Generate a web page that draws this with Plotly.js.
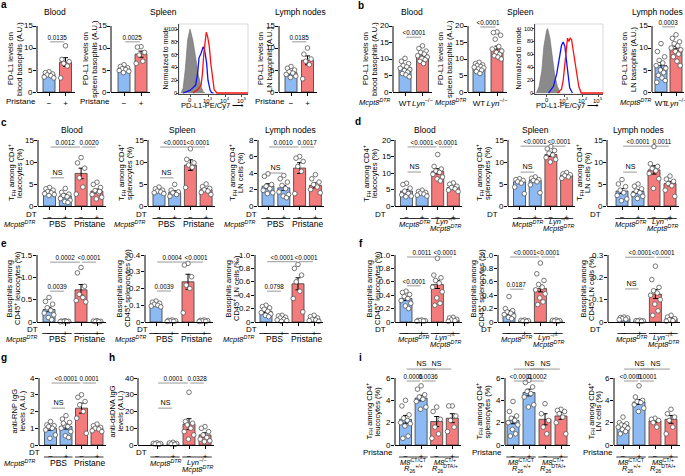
<!DOCTYPE html>
<html><head><meta charset="utf-8">
<script src="https://cdn.plot.ly/plotly-3.0.1.min.js"></script>
<style>html,body{margin:0;padding:0;background:#fff}</style>
</head><body><div id="chart" style="width:685px;height:476px"></div>
<script>
// ================= DATA =================
const MCPT = '<i>Mcpt8</i><sup><i>DTR</i></sup>';
const LYN = '<i>Lyn</i><sup>\u2212/\u2212</sup>';
const TFH = 'T<sub>FH</sub> among CD4<sup>+</sup>';
const pristaneTicks = ['\u2212', '+'];
const bTicks = ['WT', LYN];
const dtTicks = ['\u2212', '+', '\u2212', '+'];
const pbsGroups = [[0, 1, 'PBS'], [2, 3, 'Pristane']];
const lynGroups = [[0, 1, MCPT], [2, 3, LYN + '<br>' + MCPT]];
const m8Groups = [[0, 1, '<i>M8</i><sup>CT/CT</sup><br><i>R</i><sub>26</sub><sup>+/+</sup>'],
                  [2, 3, '<i>M8</i><sup>CT/+</sup><br><i>R</i><sub>26</sub><sup>DTA/+</sup>']];

const yT15 = [0, 5, 10, 15], yT20 = [0, 5, 10, 15, 20], yT8 = [0, 2, 4, 6, 8];
const yT15e = [0, 0.5, 1.0, 1.5], yT04 = [0, 0.1, 0.2, 0.3, 0.4], yT10 = [0, 0.2, 0.4, 0.6, 0.8, 1.0];
const yT03 = [0, 0.1, 0.2, 0.3], yT4 = [0, 1, 2, 3, 4], yT40 = [0, 10, 20, 30, 40], yT6 = [0, 2, 4, 6];

// panel a
const a1Means = [4.0, 6.8], a1Sem = [0.3, 1.0];
const a1Pts = [[4.6, 4.4, 4.1, 3.9, 3.7, 3.4, 3.2], [10.5, 7.4, 6.9, 6.5, 5.9, 3.2]];
const a1Sig = [[0, 1, 11.4, '0.0135']];
const a2Means = [5.3, 8.6], a2Sem = [0.25, 0.7];
const a2Pts = [[6.2, 5.8, 5.5, 5.3, 5.1, 4.9, 4.7, 4.4], [10.3, 10.2, 9.0, 8.4, 7.0, 6.5]];
const a2Sig = [[0, 1, 11.4, '0.0025']];
const a3Means = [4.4, 7.2], a3Sem = [0.3, 1.0];
const a3Pts = [[5.8, 5.4, 5.0, 4.6, 4.3, 4.0, 3.6, 3.3], [10.0, 8.6, 7.5, 7.0, 6.2, 3.0]];
const a3Sig = [[0, 1, 11.4, '0.0185']];
// panel b
const b1Means = [7.5, 11.2], b1Sem = [0.5, 0.5];
const b1Pts = [[10.2, 9.3, 8.6, 8.0, 7.6, 7.2, 6.8, 6.5, 6.0, 5.6, 5.2, 4.6], [14.0, 13.2, 12.4, 12.0, 11.5, 11.0, 10.6, 10.2, 9.8, 9.3, 8.6]];
const b1Sig = [[0, 1, 16.6, '<0.0001']];
const b2Means = [7.6, 13.0], b2Sem = [0.3, 0.9];
const b2Pts = [[9.0, 8.6, 8.2, 8.0, 7.7, 7.5, 7.3, 7.0, 6.6, 6.2, 5.6], [18.2, 18.0, 17.2, 16.0, 13.8, 13.0, 12.4, 12.0, 11.4, 11.0, 10.6, 10.0]];
const b2Sig = [[0, 1, 19.7, '<0.0001']];
const b3Means = [6.0, 9.9], b3Sem = [0.7, 0.5];
const b3Pts = [[11.0, 9.2, 8.0, 7.2, 6.6, 6.0, 5.4, 5.0, 4.4, 3.8, 3.2, 2.6, 2.2], [13.0, 12.2, 11.4, 11.0, 10.5, 10.0, 9.6, 9.2, 8.6, 8.0, 7.0, 6.0]];
const b3Sig = [[0, 1, 14.8, '0.0003']];
// histograms (x: 0-100 along the axis, y: % of mode)
const histATickVals = [16, 42.5, 66.7, 91], histBTickVals = [17.6, 43, 70, 93];
const histTickText = ['0', '10<sup>3</sup>', '10<sup>4</sup>', '10<sup>5</sup>'];
const histYTicks = [0, 20, 40, 60, 80, 100];
const hAGrayX = [3, 6, 9, 12.5, 16, 20, 24, 27.5, 32, 35, 38];
const hAGrayY = [0, 8, 36, 83, 100, 83, 57, 31, 10, 2, 0];
const hABlueX = [6, 12, 16, 20, 24, 27, 29, 32, 35, 37, 40, 42, 45, 47, 50];
const hABlueY = [0, 2, 4, 8, 12, 31, 55, 62, 72, 68, 47, 20, 5, 1, 0];
const hARedX = [20, 27, 32, 34, 36, 38, 39.5, 41.5, 44, 46, 49, 51, 55, 100];
const hARedY = [0, 5, 12, 31, 62, 85, 95, 88, 72, 47, 18, 5, 0, 0];
const hBGrayX = [2, 6, 10, 13, 17, 18.6, 22, 26, 29, 33, 37];
const hBGrayY = [0, 10, 35, 72, 97, 100, 85, 56, 28, 10, 0];
const hBBlueX = [20, 27, 32, 35.5, 39, 41.5, 44, 46.5, 49, 51, 55];
const hBBlueY = [0, 10, 30, 56, 74, 79, 72, 48, 25, 8, 0];
const hBRedX = [33, 39, 41.5, 44, 46.4, 47.8, 49.8, 51.7, 53.7, 57, 61, 64.4, 68, 100];
const hBRedY = [0, 6, 20, 51, 74, 85, 80, 85, 83, 61, 30, 10, 0, 0];
// panel c
const c1Means = [3.2, 2.3, 7.4, 3.4], c1Sem = [0.25, 0.4, 1.2, 0.45];
const c1Pts = [[4.2, 3.9, 3.6, 3.3, 3.0, 2.8, 2.6, 2.4], [4.0, 3.1, 2.7, 2.4, 2.1, 1.7, 1.3, 1.0, 0.8], [11.0, 9.8, 8.6, 6.4, 4.3, 2.7], [5.4, 4.9, 4.2, 3.5, 3.0, 2.6, 2.0, 1.6, 3.3]];
const c1Sig = [[0, 1, 6.4, 'NS'], [0, 2, 13.4, '0.0012'], [2, 3, 13.4, '0.0020']];
const c2Means = [3.4, 3.1, 9.3, 3.7], c2Sem = [0.2, 0.35, 1.2, 0.3];
const c2Pts = [[4.3, 3.9, 3.6, 3.4, 3.2, 3.0, 2.8], [4.9, 3.6, 3.2, 3.0, 2.6, 2.2], [13.0, 10.6, 9.8, 9.3, 8.8, 4.2], [5.0, 4.4, 4.0, 3.7, 3.4, 3.1, 2.6]];
const c2Sig = [[0, 1, 6.4, 'NS'], [0, 2, 13.4, '<0.0001'], [2, 3, 13.4, '<0.0001']];
const c3Means = [2.4, 2.2, 4.6, 2.5], c3Sem = [0.3, 0.3, 0.65, 0.3];
const c3Pts = [[3.9, 3.6, 2.6, 2.4, 2.1, 1.9, 1.6, 1.5], [3.7, 3.3, 2.9, 2.5, 2.1, 1.7, 1.4, 1.2, 1.0], [6.0, 5.8, 5.4, 4.8, 4.2, 1.5], [3.8, 3.3, 2.9, 2.6, 2.3, 2.0, 1.6]];
const c3Sig = [[0, 1, 4.0, 'NS'], [0, 2, 7.15, '0.0010'], [2, 3, 7.15, '0.0017']];
// panel d
const d1Means = [4.5, 3.9, 10.5, 5.6], d1Sem = [0.5, 0.25, 0.8, 0.35];
const d1Pts = [[6.9, 6.5, 5.4, 4.5, 3.8, 3.4, 3.0, 2.8], [4.8, 4.4, 4.1, 3.9, 3.6, 3.3, 3.0], [15.6, 12.0, 11.2, 10.6, 10.2, 9.6, 8.8, 8.2, 7.6], [7.0, 6.6, 6.0, 5.6, 5.2, 4.8, 4.4]];
const d1Sig = [[0, 1, 10.3, 'NS'], [0, 2, 17.9, '<0.0001'], [2, 3, 17.9, '<0.0001']];
const d2Means = [5.5, 5.8, 11.7, 7.0], d2Sem = [0.4, 0.4, 0.45, 0.25];
const d2Pts = [[6.2, 6.0, 5.8, 5.5, 5.2, 4.3, 2.8], [6.6, 6.3, 6.0, 5.8, 5.5, 4.8, 3.0], [13.5, 13.0, 12.6, 12.0, 11.6, 11.0, 10.6, 10.0], [7.6, 7.3, 7.1, 6.9, 6.6, 6.3]];
const d2Sig = [[0, 1, 7.7, 'NS'], [0, 2, 13.6, '<0.0001'], [2, 3, 13.6, '<0.0001']];
const d3Means = [3.4, 3.3, 8.2, 5.1], d3Sem = [0.55, 0.4, 0.95, 0.5];
const d3Pts = [[6.0, 5.0, 4.4, 3.6, 3.0, 2.4, 1.6, 1.2], [5.0, 4.5, 3.9, 3.4, 3.0, 2.6, 2.2, 1.7], [13.5, 9.6, 9.0, 8.5, 8.0, 7.4, 6.2, 4.0], [6.8, 6.1, 5.6, 5.1, 4.6, 3.6, 2.2]];
const d3Sig = [[0, 1, 7.7, 'NS'], [0, 2, 13.6, '<0.0001'], [2, 3, 13.6, '0.0011']];
// panel e
const e1Means = [0.28, 0.012, 0.72, 0.01], e1Sem = [0.05, 0.003, 0.12, 0.003];
const e1Pts = [[0.55, 0.46, 0.40, 0.32, 0.26, 0.20, 0.16, 0.10, 0.05], [0.03, 0.02, 0.015, 0.01, 0.01, 0.005], [1.22, 1.1, 0.8, 0.62, 0.55, 0.48, 0.45], [0.03, 0.02, 0.015, 0.01, 0.005]];
const e1Sig = [[0, 1, 0.69, '0.0039'], [0, 2, 1.34, '0.0002'], [2, 3, 1.34, '<0.0001']];
const e2Means = [0.105, 0.006, 0.24, 0.006], e2Sem = [0.005, 0.001, 0.045, 0.001];
const e2Pts = [[0.125, 0.118, 0.112, 0.106, 0.1, 0.095, 0.09], [0.012, 0.01, 0.008, 0.006, 0.004, 0.003], [0.35, 0.34, 0.27, 0.22, 0.2, 0.055], [0.012, 0.01, 0.008, 0.006, 0.004, 0.003]];
const e2Sig = [[0, 1, 0.185, '0.0039'], [0, 2, 0.358, '0.0004'], [2, 3, 0.358, '<0.0001']];
const e3Means = [0.16, 0.05, 0.57, 0.045], e3Sem = [0.02, 0.012, 0.09, 0.012];
const e3Pts = [[0.25, 0.23, 0.21, 0.19, 0.16, 0.14, 0.12, 0.1, 0.08], [0.1, 0.09, 0.07, 0.06, 0.04, 0.03, 0.02, 0.01], [0.86, 0.8, 0.7, 0.6, 0.46, 0.35, 0.15], [0.1, 0.08, 0.06, 0.04, 0.03, 0.02, 0.01]];
const e3Sig = [[0, 1, 0.46, '0.0798'], [0, 2, 0.9, '<0.0001'], [2, 3, 0.9, '<0.0001']];
// panel f
const f1Means = [0.35, 0.02, 0.56, 0.03], f1Sem = [0.03, 0.003, 0.06, 0.008];
const f1Pts = [[0.46, 0.44, 0.41, 0.38, 0.35, 0.32, 0.28, 0.24, 0.2], [0.03, 0.025, 0.02, 0.02, 0.015, 0.01], [0.95, 0.7, 0.66, 0.62, 0.58, 0.52, 0.45, 0.36, 0.28, 0.25], [0.07, 0.06, 0.04, 0.03, 0.02, 0.01]];
const f1Sig = [[0, 1, 0.54, '<0.0001'], [0, 2, 0.97, '0.0011'], [2, 3, 0.97, '<0.0001']];
const f2Means = [0.14, 0.02, 0.5, 0.02], f2Sem = [0.03, 0.003, 0.05, 0.003];
const f2Pts = [[0.38, 0.2, 0.17, 0.15, 0.13, 0.11, 0.09, 0.07, 0.05], [0.03, 0.025, 0.02, 0.015, 0.01], [0.88, 0.72, 0.62, 0.56, 0.52, 0.48, 0.42, 0.36, 0.3, 0.26], [0.03, 0.025, 0.02, 0.015, 0.01]];
const f2Sig = [[0, 1, 0.49, '0.0187'], [0, 2, 0.97, '<0.0001'], [2, 3, 0.97, '<0.0001']];
const f3Means = [0.015, 0.005, 0.125, 0.015], f3Sem = [0.002, 0.001, 0.02, 0.004];
const f3Pts = [[0.022, 0.02, 0.018, 0.015, 0.012, 0.01], [0.008, 0.006, 0.005, 0.004, 0.003], [0.25, 0.19, 0.155, 0.14, 0.13, 0.12, 0.1, 0.08, 0.05, 0.03], [0.03, 0.022, 0.015, 0.01, 0.006, 0.004]];
const f3Sig = [[0, 1, 0.148, 'NS'], [0, 2, 0.29, '<0.0001'], [2, 3, 0.29, '<0.0001']];
// panel g, h
const gMeans = [1.0, 1.1, 2.2, 1.0], gSem = [0.12, 0.15, 0.3, 0.06];
const gPts = [[1.4, 1.2, 1.15, 1.1, 1.0, 0.9, 0.6, 0.4], [1.75, 1.55, 1.35, 1.2, 1.1, 1.0, 0.8, 0.55, 0.45, 1.3], [3.0, 2.85, 2.6, 2.4, 2.0, 1.6, 0.7], [1.25, 1.15, 1.05, 1.0, 0.95, 0.85, 0.8]];
const gSig = [[0, 1, 2.2, 'NS'], [0, 2, 3.7, '<0.0001'], [2, 3, 3.7, '0.0001']];
const hMeans = [0.8, 0.8, 12.5, 6.0], hSem = [0.2, 0.2, 3.2, 1.3];
const hPts = [[1.3, 1.0, 0.8, 0.6, 0.4], [1.6, 1.2, 0.9, 0.6, 0.4], [31.5, 14.0, 13.0, 12.0, 10.0, 8.0, 6.0, 3.5], [11.0, 10.0, 8.0, 6.0, 4.5, 3.5, 2.5, 2.0]];
const hSig = [[0, 1, 22, 'NS'], [0, 2, 37, '0.0001'], [2, 3, 37, '0.0328']];
// panel i
const i1Means = [2.3, 4.2, 2.1, 2.4], i1Sem = [0.35, 0.25, 0.45, 0.4];
const i1Pts = [[4.0, 3.5, 2.7, 2.4, 2.2, 2.0, 1.9, 1.7, 0.8, 0.6], [5.3, 5.0, 4.5, 4.3, 4.1, 3.9, 3.4, 3.2], [3.4, 3.0, 2.3, 1.6, 1.0, 0.6], [3.5, 3.5, 2.6, 2.2, 1.6, 1.2]];
const i1Sig = [[0, 1, 5.73, '0.0006'], [1, 2, 5.73, '0.0036'], [0, 2, 6.8, 'NS'], [1, 3, 6.8, 'NS']];
const i2Means = [2.2, 4.7, 2.3, 2.6], i2Sem = [0.3, 0.3, 0.5, 0.3];
const i2Pts = [[3.9, 3.0, 2.6, 2.4, 2.2, 2.0, 1.8, 1.4, 1.0, 0.8], [5.8, 5.6, 5.2, 4.8, 4.6, 4.3, 3.6, 3.4], [3.7, 2.8, 2.2, 1.6, 1.0], [3.2, 3.1, 3.0, 2.8, 2.5, 2.0, 1.0]];
const i2Sig = [[0, 1, 5.73, '<0.0001'], [1, 2, 5.73, '0.0002'], [0, 2, 6.8, 'NS'], [1, 3, 6.8, 'NS']];
const i3Means = [1.75, 3.85, 2.15, 2.3], i3Sem = [0.15, 0.22, 0.15, 0.35];
const i3Pts = [[2.5, 2.0, 1.9, 1.8, 1.7, 1.6, 1.5, 1.4, 1.2, 1.0], [5.3, 4.3, 4.0, 3.9, 3.8, 3.6, 3.3, 3.0], [2.4, 2.3, 2.2, 2.0, 1.6], [3.2, 2.8, 2.5, 2.2, 1.6, 1.0]];
const i3Sig = [[0, 1, 5.73, '<0.0001'], [1, 2, 5.73, '0.0001'], [0, 2, 6.8, 'NS'], [1, 3, 6.8, 'NS']];

// ================= STYLE / LAYOUT =================
const W = 685, H = 476;
const FONT = 'Liberation Sans, Arial, Helvetica, sans-serif';
const BLUE = '#8dbaf2', RED = '#f47b7b';
const BR = [BLUE, RED], BBRR = [BLUE, BLUE, RED, RED];
const JIT = [0, -0.3, 0.3, -0.15, 0.15, -0.4, 0.4, -0.05, 0.22, -0.22, 0.08, 0.35, -0.35, -0.1];
const CLEAR = 'rgba(0,0,0,0)';

const traces = [], shapes = [], annotations = [], tickLabels = [];
const layout = {
  width: W, height: H, margin: {l: 0, r: 0, t: 0, b: 0}, showlegend: false,
  paper_bgcolor: '#fff', plot_bgcolor: CLEAR,
  shapes: shapes, annotations: annotations
};
let axN = 0;
function names(n) { const s = n === 1 ? '' : String(n); return {xa: 'xaxis' + s, ya: 'yaxis' + s, xr: 'x' + s, yr: 'y' + s}; }
function txt(x, y, text, o) {
  o = o || {};
  annotations.push({xref: 'paper', yref: 'paper', x: x / W, y: 1 - y / H, text: text, showarrow: false,
    xanchor: o.xanchor || 'center', yanchor: 'middle', textangle: o.angle || 0, borderpad: 0, bgcolor: CLEAR, borderwidth: 0,
    font: {size: o.size || 8, family: FONT, color: '#000', weight: o.weight || 'normal'}});
}
// y tick label placed through the subplot's own axes (left edge of x range, tick value on y); drawn last, on top
function yLabel(A, xStart, v, label, size, shift) {
  tickLabels.push({xref: A.xr, yref: A.yr, x: xStart, y: v, xanchor: 'right', yanchor: 'middle', xshift: shift,
    text: label, showarrow: false, borderpad: 0, bgcolor: CLEAR, borderwidth: 0, font: {size: size, family: FONT, color: '#000'}});
}
const AXCOMMON = {showgrid: false, zeroline: false, fixedrange: true, ticklabeloverflow: 'allow', automargin: false};

function barPanel(P) {
  axN++; const A = names(axN);
  const n = P.means.length;
  const xEnd = P.c0 + (n - 1) * P.s + 0.55 * P.s;
  const ext = P.ext || 1.32;
  const domTop = P.yBot - ext * (P.yBot - P.yTop);
  const xMin = (P.x0 - P.c0) / P.s;
  layout[A.xa] = Object.assign({domain: [P.x0 / W, xEnd / W], range: [xMin, (xEnd - P.c0) / P.s], anchor: A.yr,
    showline: true, linecolor: '#000', linewidth: 1, ticks: 'outside', ticklen: 3, tickwidth: 1, tickcolor: '#000', tickangle: 0,
    tickmode: 'array', tickvals: P.xt.map((_, i) => i), ticktext: P.xt, tickfont: {size: 8, family: FONT, color: '#000'}}, AXCOMMON);
  layout[A.ya] = Object.assign({domain: [1 - P.yBot / H, 1 - domTop / H], range: [0, P.top * ext], anchor: A.xr,
    showline: false, ticks: 'outside', ticklen: 3, tickwidth: 1, tickcolor: '#000',
    tickmode: 'array', tickvals: P.yt, showticklabels: false}, AXCOMMON);
  P.yt.forEach(v => yLabel(A, xMin + 0.001, v, v === 0 ? '0' : v.toFixed(P.dec), 8, -4.5));
  shapes.push({type: 'line', xref: 'paper', yref: A.yr, x0: P.x0 / W, x1: P.x0 / W, y0: 0, y1: P.top, line: {color: '#000', width: 1}});
  const bw = 12 / P.s;
  traces.push({type: 'bar', x: P.means.map((_, i) => i), y: P.means, xaxis: A.xr, yaxis: A.yr, width: bw,
    marker: {color: P.col, line: {color: '#3a3a3a', width: 0.8}},
    error_y: {type: 'data', array: P.sem, visible: true, color: '#000', thickness: 1, width: 2.5}, hoverinfo: 'skip'});
  const px = [], py = [];
  P.pts.forEach((g, gi) => g.forEach((v, k) => { px.push(gi + JIT[k % JIT.length] * bw); py.push(v); }));
  traces.push({type: 'scatter', mode: 'markers', x: px, y: py, xaxis: A.xr, yaxis: A.yr, cliponaxis: false,
    marker: {size: 4.6, color: '#fff', line: {color: '#555', width: 0.8}}, hoverinfo: 'skip'});
  (P.sig || []).forEach(([i, j, lv, t]) => {
    shapes.push({type: 'line', xref: A.xr, yref: A.yr, x0: i + 0.07, x1: j - 0.07, y0: lv, y1: lv, line: {color: '#8c8c8c', width: 0.9}});
    annotations.push({xref: A.xr, yref: A.yr, x: (i + j) / 2, y: lv, yanchor: 'bottom', text: t, showarrow: false, borderpad: 0.5, bgcolor: CLEAR,
      font: {size: t === 'NS' ? 7.2 : 6.3, family: FONT, color: '#000'}});
  });
  if (P.rowLbl) txt(P.rowLblX, P.lblY, P.rowLbl, {size: 8, xanchor: 'right'});
  if (P.leftLbl) txt(P.leftLblX, P.leftLblY, P.leftLbl, {size: 7.5, xanchor: 'right'});
  (P.groups || []).forEach(([i, j, t]) => {
    shapes.push({type: 'line', xref: A.xr, yref: 'paper', x0: i - 0.42, x1: j + 0.42, y0: 1 - P.lineY / H, y1: 1 - P.lineY / H, line: {color: '#000', width: 0.8}});
    const lines = t.split('<br>');
    const sz = t.indexOf('<i>') >= 0 ? 7.5 : 8.5;
    lines.forEach((l, k) => {
      const yy = lines.length === 1 ? P.grpY : P.grpY2[k];
      annotations.push({xref: A.xr, yref: 'paper', x: (i + j) / 2, y: 1 - yy / H, yanchor: 'middle', text: l, showarrow: false, borderpad: 0, bgcolor: CLEAR,
        font: {size: sz, family: FONT, color: '#000'}});
    });
  });
  const ym = (P.yTop + P.yBot) / 2;
  P.ytitle.forEach((l, k) => txt(P.ytX[k] - 1, ym, l, {size: 7.5, angle: -90}));
}

function histPanel(Q) {
  axN++; const A = names(axN);
  const pxPer = (Q.yBot - Q.y100) / 100;
  const yMin = -1.5, yMax = (Q.yBot - Q.yTop) / pxPer;
  layout[A.xa] = Object.assign({domain: [Q.x0 / W, Q.x1 / W], range: [0, 100], anchor: A.yr, showline: true, linecolor: '#222', linewidth: 0.8,
    ticks: 'outside', ticklen: 2, tickwidth: 0.8, tickcolor: '#222', tickmode: 'array', tickvals: Q.tv, showticklabels: false}, AXCOMMON);
  layout[A.ya] = Object.assign({domain: [1 - (Q.yBot - yMin * pxPer) / H, 1 - Q.yTop / H], range: [yMin, yMax], anchor: A.xr, showline: true,
    linecolor: '#222', linewidth: 0.8, ticks: 'outside', ticklen: 2, tickwidth: 0.8, tickcolor: '#222', tickmode: 'array',
    tickvals: histYTicks, showticklabels: false}, AXCOMMON);
  histYTicks.forEach(v => yLabel(A, 0.001, v, String(v), 5.5, -2.5));
  Q.tv.forEach((v, k) => txt(Q.x0 + v / 100 * (Q.x1 - Q.x0), Q.yBot + 6.5, histTickText[k], {size: 6}));
  shapes.push({type: 'rect', xref: 'paper', yref: 'paper', x0: Q.x0 / W, x1: Q.x1 / W, y0: 1 - (Q.yBot + 1) / H, y1: 1 - Q.yTop / H,
    line: {color: '#c8c8c8', width: 0.7}, layer: 'below'});
  traces.push({type: 'scatter', mode: 'lines', x: Q.gx, y: Q.gy, xaxis: A.xr, yaxis: A.yr, fill: 'tozeroy',
    fillcolor: '#8a8a8a', line: {color: '#6e6e6e', width: 0.6}, hoverinfo: 'skip'});
  traces.push({type: 'scatter', mode: 'lines', x: Q.bx, y: Q.by, xaxis: A.xr, yaxis: A.yr,
    line: {color: '#1010ff', width: 1.3}, hoverinfo: 'skip'});
  traces.push({type: 'scatter', mode: 'lines', x: Q.rx, y: Q.ry, xaxis: A.xr, yaxis: A.yr,
    line: {color: '#ff1010', width: 1.3}, hoverinfo: 'skip'});
  txt(Q.ytX, (Q.yTop + Q.yBot) / 2, 'Normalized to mode', {size: 7, angle: -90});
  txt(Q.xtX, 105, 'PD-L1-PE/Cy7 \u27F6', {size: 7.5});
}

const ROW_AB = {yTop: 26, yBot: 92, lblY: 101.5};
const ROW_C = {yTop: 140, yBot: 206, lblY: 214.5, lineY: 218.5, grpY: 224, grpY2: [221, 228]};
const ROW_E = {yTop: 255, yBot: 322, lblY: 329.5, lineY: 333.5, grpY: 339, grpY2: [337, 343.5]};
const ROW_G = {yTop: 378, yBot: 445, lblY: 452.5, lineY: 457, grpY: 462.5, grpY2: [462, 468.5]};
const PDL1 = 'PD-L1 levels on';

const panels = [
  Object.assign({}, ROW_AB, {means: a1Means, sem: a1Sem, pts: a1Pts, sig: a1Sig, col: BR, xt: pristaneTicks, x0: 37, c0: 49, s: 16.5, top: 15, yt: yT15, dec: 0, rowLbl: 'Pristane', rowLblX: 36, ytitle: [PDL1, 'blood basophils (A.U.)'], ytX: [11, 20]}),
  Object.assign({}, ROW_AB, {means: a2Means, sem: a2Sem, pts: a2Pts, sig: a2Sig, col: BR, xt: pristaneTicks, x0: 111, c0: 124, s: 17, top: 15, yt: yT15, dec: 0, rowLbl: 'Pristane', rowLblX: 110, ytitle: [PDL1, 'spleen basophils (A.U.)'], ytX: [86, 95]}),
  Object.assign({}, ROW_AB, {means: a3Means, sem: a3Sem, pts: a3Pts, sig: a3Sig, col: BR, xt: pristaneTicks, x0: 279, c0: 291, s: 16.5, top: 15, yt: yT15, dec: 0, rowLbl: 'Pristane', rowLblX: 285, ytitle: [PDL1, 'LN basophils (A.U.)'], ytX: [261, 270]}),
  Object.assign({}, ROW_AB, {means: b1Means, sem: b1Sem, pts: b1Pts, sig: b1Sig, col: BR, xt: bTicks, x0: 393, c0: 405, s: 17.5, top: 20, yt: yT20, dec: 0, leftLbl: MCPT, leftLblX: 390, leftLblY: 102, ytitle: [PDL1, 'blood basophils (A.U.)'], ytX: [366, 375]}),
  Object.assign({}, ROW_AB, {means: b2Means, sem: b2Sem, pts: b2Pts, sig: b2Sig, col: BR, xt: bTicks, x0: 468, c0: 479, s: 18, top: 20, yt: yT20, dec: 0, leftLbl: MCPT, leftLblX: 466, leftLblY: 102, ytitle: [PDL1, 'spleen basophils (A.U.)'], ytX: [441, 450]}),
  Object.assign({}, ROW_AB, {means: b3Means, sem: b3Sem, pts: b3Pts, sig: b3Sig, col: BR, xt: bTicks, x0: 652, c0: 661, s: 15, top: 15, yt: yT15, dec: 0, leftLbl: MCPT, leftLblX: 651, leftLblY: 102, ytitle: [PDL1, 'LN basophils (A.U.)'], ytX: [625, 634]}),

  Object.assign({}, ROW_C, {means: c1Means, sem: c1Sem, pts: c1Pts, sig: c1Sig, col: BBRR, xt: dtTicks, x0: 38, c0: 49.5, s: 15.8, top: 15, yt: yT15, dec: 0, rowLbl: 'DT', rowLblX: 37, leftLbl: MCPT, leftLblX: 35, leftLblY: 224, groups: pbsGroups, ytitle: [TFH, 'leucocytes (%)'], ytX: [12, 20]}),
  Object.assign({}, ROW_C, {means: c2Means, sem: c2Sem, pts: c2Pts, sig: c2Sig, col: BBRR, xt: dtTicks, x0: 148, c0: 159, s: 15.7, top: 15, yt: yT15, dec: 0, rowLbl: 'DT', rowLblX: 147, leftLbl: MCPT, leftLblX: 145, leftLblY: 224, groups: pbsGroups, ytitle: [TFH, 'splenocytes (%)'], ytX: [122, 130]}),
  Object.assign({}, ROW_C, {means: c3Means, sem: c3Sem, pts: c3Pts, sig: c3Sig, col: BBRR, xt: dtTicks, x0: 258, c0: 268, s: 15.8, top: 8, yt: yT8, dec: 0, rowLbl: 'DT', rowLblX: 257, leftLbl: MCPT, leftLblX: 255, leftLblY: 224, groups: pbsGroups, ytitle: [TFH, 'LN cells (%)'], ytX: [233, 241]}),
  Object.assign({}, ROW_C, {means: d1Means, sem: d1Sem, pts: d1Pts, sig: d1Sig, col: BBRR, xt: dtTicks, x0: 395, c0: 406.5, s: 15.6, top: 20, yt: yT20, dec: 0, rowLbl: 'DT', rowLblX: 386, groups: lynGroups, ytitle: [TFH, 'leucocytes (%)'], ytX: [367, 375]}),
  Object.assign({}, ROW_C, {means: d2Means, sem: d2Sem, pts: d2Pts, sig: d2Sig, col: BBRR, xt: dtTicks, x0: 508, c0: 519.5, s: 15.7, top: 15, yt: yT15, dec: 0, rowLbl: 'DT', rowLblX: 498, groups: lynGroups, ytitle: [TFH, 'splenocytes (%)'], ytX: [480, 488]}),
  Object.assign({}, ROW_C, {means: d3Means, sem: d3Sem, pts: d3Pts, sig: d3Sig, col: BBRR, xt: dtTicks, x0: 607, c0: 622, s: 16, top: 15, yt: yT15, dec: 0, rowLbl: 'DT', rowLblX: 601, groups: lynGroups, ytitle: [TFH, 'LN cells (%)'], ytX: [580, 588]}),

  Object.assign({}, ROW_E, {means: e1Means, sem: e1Sem, pts: e1Pts, sig: e1Sig, col: BBRR, xt: dtTicks, x0: 37, c0: 49, s: 16, top: 1.5, yt: yT15e, dec: 1, rowLbl: 'DT', rowLblX: 38, leftLbl: MCPT, leftLblX: 37, leftLblY: 339, groups: pbsGroups, ytitle: ['Basophils among', 'CD45<sup>+</sup> leucocytes (%)'], ytX: [10, 17.5]}),
  Object.assign({}, ROW_E, {means: e2Means, sem: e2Sem, pts: e2Pts, sig: e2Sig, col: BBRR, xt: dtTicks, x0: 145, c0: 156, s: 16, top: 0.4, yt: yT04, dec: 1, rowLbl: 'DT', rowLblX: 148, leftLbl: MCPT, leftLblX: 146, leftLblY: 339, groups: pbsGroups, ytitle: ['Basophils among', 'CD45<sup>+</sup> splenocytes (%)'], ytX: [120, 127.5]}),
  Object.assign({}, ROW_E, {means: e3Means, sem: e3Sem, pts: e3Pts, sig: e3Sig, col: BBRR, xt: dtTicks, x0: 255, c0: 266, s: 16, top: 1.0, yt: yT10, dec: 1, rowLbl: 'DT', rowLblX: 257, leftLbl: MCPT, leftLblX: 254, leftLblY: 339, groups: pbsGroups, ytitle: ['Basophils among', 'CD45<sup>+</sup> LN cells (\u2030)'], ytX: [229, 236.5]}),
  Object.assign({}, ROW_E, {means: f1Means, sem: f1Sem, pts: f1Pts, sig: f1Sig, col: BBRR, xt: dtTicks, x0: 395, c0: 406, s: 15.7, top: 1.0, yt: yT10, dec: 1, rowLbl: 'DT', rowLblX: 386, groups: lynGroups, ytitle: ['Basophils among', 'CD45<sup>+</sup> leucocytes (%)'], ytX: [370, 377.5]}),
  Object.assign({}, ROW_E, {means: f2Means, sem: f2Sem, pts: f2Pts, sig: f2Sig, col: BBRR, xt: dtTicks, x0: 498, c0: 509, s: 15.7, top: 1.0, yt: yT10, dec: 1, rowLbl: 'DT', rowLblX: 492, groups: lynGroups, ytitle: ['Basophils among', 'CD45<sup>+</sup> splenocytes (%)'], ytX: [474, 481.5]}),
  Object.assign({}, ROW_E, {means: f3Means, sem: f3Sem, pts: f3Pts, sig: f3Sig, col: BBRR, xt: dtTicks, x0: 608, c0: 624, s: 15.7, top: 0.3, yt: yT03, dec: 1, rowLbl: 'DT', rowLblX: 601, groups: lynGroups, ytitle: ['Basophils among', 'CD45<sup>+</sup> LN cells (%)'], ytX: [584, 591.5]}),

  Object.assign({}, ROW_G, {means: gMeans, sem: gSem, pts: gPts, sig: gSig, col: BBRR, xt: dtTicks, x0: 39, c0: 50.5, s: 15.5, top: 4, yt: yT4, dec: 0, rowLbl: 'DT', rowLblX: 40, leftLbl: MCPT, leftLblX: 35, leftLblY: 462.5, groups: pbsGroups, ytitle: ['anti-RNP IgG', 'levels (A.U.)'], ytX: [15, 23]}),
  Object.assign({}, ROW_G, {means: hMeans, sem: hSem, pts: hPts, sig: hSig, col: BBRR, xt: dtTicks, x0: 138, c0: 157, s: 16, top: 40, yt: yT40, dec: 0, rowLbl: 'DT', rowLblX: 147, groups: lynGroups, ytitle: ['anti-dsDNA IgG', 'levels (A.U.)'], ytX: [113, 121]}),
  Object.assign({}, ROW_G, {means: i1Means, sem: i1Sem, pts: i1Pts, sig: i1Sig, col: BBRR, xt: dtTicks, x0: 395, c0: 405.5, s: 15.6, top: 6, yt: yT6, dec: 0, rowLbl: 'Pristane', rowLblX: 393, groups: m8Groups, ytitle: [TFH, 'leucocytes (%)'], ytX: [370, 378]}),
  Object.assign({}, ROW_G, {means: i2Means, sem: i2Sem, pts: i2Pts, sig: i2Sig, col: BBRR, xt: dtTicks, x0: 505, c0: 513, s: 16, top: 6, yt: yT6, dec: 0, rowLbl: 'Pristane', rowLblX: 502, groups: m8Groups, ytitle: [TFH, 'splenocytes (%)'], ytX: [480, 488]}),
  Object.assign({}, ROW_G, {means: i3Means, sem: i3Sem, pts: i3Pts, sig: i3Sig, col: BBRR, xt: dtTicks, x0: 614, c0: 623, s: 16, top: 6, yt: yT6, dec: 0, rowLbl: 'Pristane', rowLblX: 613, groups: m8Groups, ytitle: [TFH, 'LN cells (%)'], ytX: [592, 599]})
];
panels.forEach(barPanel);

histPanel({x0: 179, x1: 248, yTop: 24, y100: 29, yBot: 93, tv: histATickVals, gx: hAGrayX, gy: hAGrayY, bx: hABlueX, by: hABlueY, rx: hARedX, ry: hARedY, ytX: 165, xtX: 213});
histPanel({x0: 535, x1: 603, yTop: 24, y100: 28.5, yBot: 93, tv: histBTickVals, gx: hBGrayX, gy: hBGrayY, bx: hBBlueX, by: hBBlueY, rx: hBRedX, ry: hBRedY, ytX: 518, xtX: 567});

// panel titles
[['Blood', 55, 12], ['Spleen', 163, 12], ['Lymph nodes', 300, 12],
 ['Blood', 412, 12], ['Spleen', 520, 12], ['Lymph nodes', 657, 12],
 ['Blood', 72, 130], ['Spleen', 183, 130], ['Lymph nodes', 290, 130],
 ['Blood', 425, 130], ['Spleen', 535, 130], ['Lymph nodes', 638, 130]].forEach(t => txt(t[1], t[2], t[0], {size: 8.5}));
// panel letters
[['a', 4, 5], ['b', 361, 6], ['c', 4, 123], ['d', 358, 122], ['e', 4, 244], ['f', 361, 244],
 ['g', 4, 357], ['h', 112, 357], ['i', 360, 357]].forEach(t => txt(t[1], t[2], t[0], {size: 10, weight: 'bold'}));

// tick labels go last so that nothing is drawn over them
tickLabels.forEach(a => annotations.push(a));

Plotly.newPlot('chart', traces, layout, {staticPlot: true, displayModeBar: false});
</script></body></html>
